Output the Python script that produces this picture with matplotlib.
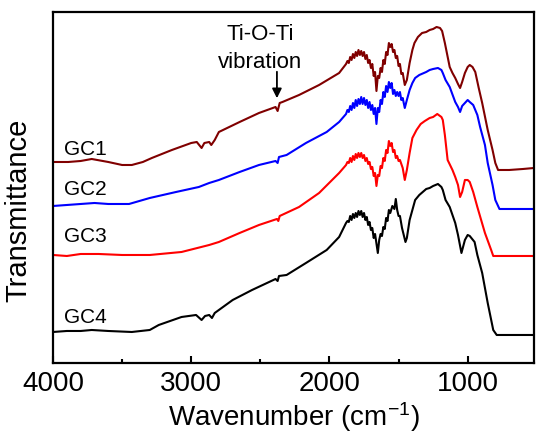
import numpy as np
import matplotlib
matplotlib.use("Agg")
import matplotlib.pyplot as plt

plt.rcParams["font.family"] = ["Liberation Sans", "DejaVu Sans"]
plt.rcParams["mathtext.default"] = "regular"

# FTIR spectra (wavenumber in cm-1, offset transmittance in a.u.)
gc1_wn = [4000, 3890, 3800, 3720, 3600, 3500, 3430, 3350, 3285, 3140, 3000, 2960, 2925, 2905, 2870,
          2855, 2830, 2800, 2650, 2510, 2390, 2375, 2360, 2340, 2220, 2075, 1930,
          1880, 1870, 1860, 1850, 1840, 1830, 1820, 1810, 1800, 1790, 1780, 1770, 1760, 1750, 1740,
          1730, 1720, 1710, 1700, 1690, 1680, 1670, 1660, 1650, 1640, 1630, 1620, 1610, 1600, 1590,
          1580, 1570, 1560, 1550, 1540, 1530, 1520, 1510, 1500, 1490, 1480, 1470, 1455,
          1440, 1420, 1400, 1385, 1360, 1330, 1300, 1275, 1250, 1225, 1200, 1185, 1165, 1130, 1110,
          1090, 1070, 1055, 1040, 1020, 1000, 985, 965, 945, 920, 895, 855, 820, 800, 780, 700, 600, 520]
gc1_t = [201, 201, 202, 204, 201, 198, 198, 201, 205, 213, 220, 221, 215, 220, 221,
         218, 223, 231, 241, 250, 256, 252, 260, 261, 268, 278, 290,
         299, 302, 300, 306, 303, 309, 305, 311, 307, 313, 308, 312, 307, 311, 304,
         308, 300, 303, 295, 299, 287, 291, 272, 287, 285, 295, 291, 303, 299, 311,
         308, 320, 316, 319, 311, 313, 305, 307, 297, 299, 289, 290, 278,
         283, 300, 313, 320, 326, 330, 331, 333, 334, 336, 335, 332, 320, 296, 290,
         285, 279, 275, 281, 290, 296, 298, 296, 291, 275, 260, 233, 213, 200, 193, 193, 194, 195]

gc2_wn = [4000, 3900, 3800, 3700, 3600, 3450, 3300, 3110, 2945, 2870, 2800, 2650, 2510, 2390, 2375,
          2365, 2310, 2170, 2020, 1930,
          1880, 1870, 1860, 1850, 1840, 1830, 1820, 1810, 1800, 1790, 1780, 1770, 1760, 1750, 1740,
          1730, 1720, 1710, 1700, 1690, 1680, 1670, 1660, 1650, 1640, 1630, 1620, 1610, 1600, 1590,
          1580, 1570, 1560, 1550, 1540, 1530, 1520, 1510, 1500, 1490, 1480, 1470, 1455,
          1440, 1420, 1400, 1380, 1350, 1300, 1275, 1250, 1215, 1190, 1180, 1160, 1130,
          1090, 1070, 1055, 1040, 1020, 1000, 985, 960, 930, 910, 875, 855, 820, 800, 770,
          700, 600, 520]
gc2_t = [157, 158, 159, 160, 159, 159, 165, 171, 176, 180, 183, 191, 198, 202, 200,
         206, 208, 220, 231, 241,
         249, 253, 251, 257, 253, 260, 255, 263, 257, 264, 259, 266, 259, 265, 258,
         263, 255, 261, 253, 258, 249, 255, 239, 255, 251, 263, 259, 271, 266, 277,
         271, 281, 275, 280, 269, 273, 267, 271, 267, 271, 263, 265, 255,
         263, 273, 280, 285, 288, 291, 293, 294, 295, 293, 290, 283, 276,
         261, 256, 251, 257, 260, 263, 261, 258, 248, 236, 218, 200, 178, 163, 154,
         154, 154, 154]

gc3_wn = [4000, 3900, 3800, 3670, 3500, 3300, 3070, 2870, 2800, 2650, 2510, 2380, 2370, 2360, 2220,
          2075, 1930,
          1880, 1870, 1860, 1850, 1840, 1830, 1820, 1810, 1800, 1790, 1780, 1770, 1760, 1750, 1740,
          1730, 1720, 1710, 1700, 1690, 1680, 1670, 1660, 1650, 1640, 1630, 1620, 1610, 1600, 1590,
          1580, 1570, 1560, 1550, 1540, 1530, 1520, 1510, 1500, 1490, 1470, 1455,
          1440, 1420, 1400, 1370, 1340, 1310, 1275, 1250, 1220, 1190, 1180, 1165, 1145, 1110, 1090,
          1070, 1055, 1040, 1020, 1000, 985, 960, 930, 875, 830, 815, 700, 600, 520]
gc3_t = [108, 107, 109, 109, 108, 108, 111, 118, 121, 130, 138, 144, 142, 147, 156,
         170, 190,
         198, 201, 200, 205, 201, 207, 203, 209, 205, 210, 206, 210, 205, 208, 202,
         205, 199, 201, 194, 196, 187, 190, 177, 188, 187, 197, 195, 205, 202, 213,
         210, 222, 217, 220, 211, 213, 205, 207, 202, 203, 195, 183,
         193, 210, 225, 233, 239, 242, 245, 246, 249, 246, 243, 228, 203, 193, 186,
         178, 166, 171, 183, 183, 181, 171, 156, 130, 113, 107, 107, 107, 107]

gc4_wn = [4000, 3900, 3800, 3720, 3600, 3430, 3300, 3235, 3070, 2965, 2925, 2900, 2870, 2850, 2830,
          2800, 2700, 2560, 2390, 2375, 2365, 2310, 2170, 2020, 1930,
          1880, 1870, 1860, 1850, 1840, 1830, 1820, 1810, 1800, 1790, 1780, 1770, 1760, 1750, 1740,
          1730, 1720, 1710, 1700, 1690, 1680, 1670, 1650, 1640, 1630, 1620, 1610, 1600, 1590, 1580,
          1570, 1560, 1545, 1530, 1520, 1510, 1500, 1490, 1475, 1450,
          1440, 1420, 1400, 1380, 1350, 1300, 1275, 1250, 1215, 1190, 1180, 1160, 1130, 1090, 1070,
          1045, 1020, 1000, 985, 950, 930, 895, 855, 815, 790, 700, 600, 520]
gc4_t = [31, 32, 32, 33, 32, 31, 33, 38, 46, 48, 43, 47, 48, 45, 50,
         53, 63, 73, 84, 82, 87, 88, 100, 113, 126,
         140, 142, 141, 147, 143, 149, 145, 150, 146, 152, 148, 152, 146, 150, 143,
         146, 138, 141, 133, 135, 125, 129, 110, 123, 129, 127, 136, 134, 145, 142,
         153, 150, 157, 154, 164, 153, 147, 147, 135, 121,
         125, 143, 153, 163, 168, 174, 175, 177, 179, 176, 173, 163, 156, 140, 128,
         110, 123, 128, 127, 121, 108, 90, 60, 33, 28, 28, 28, 28]

series = [("GC1", gc1_wn, gc1_t, "#800000"),
          ("GC2", gc2_wn, gc2_t, "#0000ff"),
          ("GC3", gc3_wn, gc3_t, "#ff0000"),
          ("GC4", gc4_wn, gc4_t, "#000000")]
label_pos = {"GC1": 208, "GC2": 168, "GC3": 121, "GC4": 40}

fig = plt.figure(figsize=(5.36, 4.33), dpi=100)
ax = fig.add_axes([0.0989, 0.1617, 0.8974, 0.8106])

for name, wn, t, col in series:
    ax.plot(wn, t, color=col, lw=1.5)
    ax.text(3920, label_pos[name], name, fontsize=15, va="baseline", ha="left")

ax.text(2500, 323, "Ti-O-Ti", fontsize=16, ha="center", va="baseline")
ax.text(2500, 295, "vibration", fontsize=16, ha="center", va="baseline")
ax.annotate("", xy=(2380, 262), xytext=(2380, 294),
            arrowprops=dict(arrowstyle="-|>", color="black", lw=1.3, mutation_scale=14))

ax.set_xlim(4000, 520)
ax.set_ylim(0, 351)
ax.set_xticks([4000, 3000, 2000, 1000])
ax.set_xticks([3500, 2500, 1500], minor=True)
ax.set_yticks([])
ax.tick_params(axis="x", which="major", direction="in", length=5, width=1.5, labelsize=20, pad=6)
ax.tick_params(axis="x", which="minor", direction="in", length=3, width=1.5)
for sp in ax.spines.values():
    sp.set_linewidth(1.6)

ax.set_xlabel("Wavenumber (cm$^{-1}$)", fontsize=20, labelpad=2)
ax.set_ylabel("Transmittance", fontsize=21)
ax.yaxis.set_label_coords(-0.042, 0.436)

fig.savefig("out.png", dpi=100)
